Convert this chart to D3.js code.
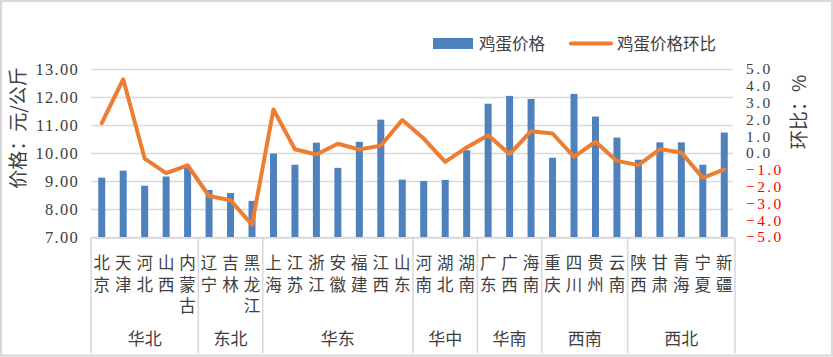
<!DOCTYPE html>
<html><head><meta charset="utf-8">
<script src="https://cdn.jsdelivr.net/npm/d3@7"></script>
<style>
html,body{margin:0;padding:0;background:#fff;}
svg{display:block;}
</style></head>
<body><svg id="chart" width="833" height="357"></svg>
<script>
const provinces = ["北京","天津","河北","山西","内蒙古","辽宁","吉林","黑龙江","上海","江苏","浙江","安徽","福建","江西","山东","河南","湖北","湖南","广东","广西","海南","重庆","四川","贵州","云南","陕西","甘肃","青海","宁夏","新疆"];
const regions = ["华北","东北","华东","华中","华南","西南","西北"];
const regionSizes = [5,3,7,3,3,4,5];
const eggPrice = [9.12,9.37,8.83,9.16,9.49,8.68,8.57,8.29,9.98,9.58,10.37,9.47,10.40,11.19,9.05,9.00,9.04,10.10,11.76,12.04,11.93,9.83,12.11,11.30,10.55,9.76,10.38,10.38,9.58,10.73];
const eggChange = [1.78,4.39,-0.33,-1.20,-0.73,-2.56,-2.81,-4.28,2.59,0.22,-0.09,0.55,0.21,0.44,1.96,0.86,-0.53,0.33,1.06,-0.07,1.30,1.16,-0.23,0.67,-0.47,-0.72,0.23,0.03,-1.48,-0.98];
const leftTicks = [7,8,9,10,11,12,13];
const rightTicks = [-5,-4,-3,-2,-1,0,1,2,3,4,5];
const legendLabels = ["鸡蛋价格","鸡蛋价格环比"];
const leftTitle = "价格：元/公斤";
const rightTitle = "环比：%";

(function(){
const svg = d3.select("#chart");
const W = 833, H = 357;
const pL = 91, pR = 735, pT = 69, pB = 237;
const cjk = "'Noto Sans CJK SC', sans-serif";
const numFont = "'Liberation Serif', 'DejaVu Serif', serif";
const txt = "#404040";
const grid = "#d9d9d9";

svg.append("rect").attr("x",1).attr("y",1).attr("width",W-2).attr("height",H-2.5)
  .attr("fill","#fff").attr("stroke",grid).attr("stroke-width",2.2);

const x = d3.scaleBand().domain(provinces).range([pL,pR]).padding(0);
const yL = d3.scaleLinear().domain([7,13]).range([pB,pT]);
const yR = d3.scaleLinear().domain([-5,5]).range([pB,pT]);

// gridlines
const gAxisGrid = svg.append("g").attr("transform",`translate(${pL},0)`)
  .call(d3.axisLeft(yL).tickValues(leftTicks).tickSize(-(pR-2-pL)).tickFormat(""));
gAxisGrid.select(".domain").remove();
gAxisGrid.selectAll("line").attr("stroke",grid).attr("stroke-width",1.6);

// left tick labels
const gL = svg.append("g").attr("transform",`translate(${pL},0)`)
  .call(d3.axisLeft(yL).tickValues(leftTicks).tickSize(0).tickPadding(12).tickFormat(d3.format(".2f")));
gL.select(".domain").remove();
gL.selectAll("text").attr("font-family",numFont).attr("font-size",16.5).attr("fill",txt)
  .attr("letter-spacing","1.3px");

// right tick labels
const gR = svg.append("g").attr("transform",`translate(${pR},0)`)
  .call(d3.axisRight(yR).tickValues(rightTicks).tickSize(0).tickPadding(11).tickFormat(d3.format(".1f")));
gR.select(".domain").remove();
gR.selectAll("text").attr("font-family",numFont).attr("font-size",15.5)
  .attr("letter-spacing","2.4px")
  .attr("fill", d => d < 0 ? "#ff0000" : txt);

// bars
svg.append("g").selectAll("rect").data(provinces).join("rect")
  .attr("x", (d) => x(d) + x.bandwidth()/2 - 3.5)
  .attr("width", 7)
  .attr("y", (d,i) => yL(eggPrice[i]))
  .attr("height", (d,i) => yL(7) - yL(eggPrice[i]))
  .attr("fill","#4f81bd");

// bottom axis line and group separators
svg.append("line").attr("x1",pL).attr("x2",pR).attr("y1",pB+1).attr("y2",pB+1)
  .attr("stroke",grid).attr("stroke-width",1.6);
let acc = 0;
const bounds = [0];
regionSizes.forEach(s => { acc += s; bounds.push(acc); });
svg.append("g").selectAll("line").data(bounds).join("line")
  .attr("x1", d => d < provinces.length ? x(provinces[d]) : pR)
  .attr("x2", d => d < provinces.length ? x(provinces[d]) : pR)
  .attr("y1", pB+1).attr("y2", 353)
  .attr("stroke",grid).attr("stroke-width",1.6);

// line
const line = d3.line().x((d,i) => x(provinces[i]) + x.bandwidth()/2).y(d => yR(d));
svg.append("path").datum(eggChange).attr("d",line).attr("fill","none")
  .attr("stroke","#ed7d31").attr("stroke-width",4).attr("stroke-linejoin","round").attr("stroke-linecap","round");

// category labels (vertical text)
svg.append("g").selectAll("text").data(provinces).join("text")
  .attr("font-family",cjk).attr("font-size",16.5).attr("fill",txt)
  .style("writing-mode","vertical-rl")
  .attr("letter-spacing","5px")
  .attr("x", d => x(d) + x.bandwidth()/2).attr("y", 254.5)
  .text(d => d);

// region labels
svg.append("g").selectAll("text").data(regions).join("text")
  .attr("x",(d,i) => {
    const a = x(provinces[bounds[i]]);
    const b = bounds[i+1] < provinces.length ? x(provinces[bounds[i+1]]) : pR;
    return (a+b)/2;
  })
  .attr("y",337).attr("dominant-baseline","central").attr("text-anchor","middle")
  .attr("font-family",cjk).attr("font-size",17).attr("fill",txt)
  .text(d => d);

// axis titles
svg.append("text").attr("transform","translate(25,128) rotate(-90)").attr("text-anchor","middle")
  .attr("font-family",cjk).attr("font-size",19).attr("fill",txt).text(leftTitle);
svg.append("text").attr("transform","translate(806,112) rotate(-90)").attr("text-anchor","middle")
  .attr("font-family",cjk).attr("font-size",19).attr("fill",txt).text(rightTitle);

// legend
svg.append("rect").attr("x",433).attr("y",38).attr("width",40).attr("height",11).attr("fill","#4f81bd");
svg.append("text").attr("x",479).attr("y",50).attr("font-family",cjk).attr("font-size",16.5).attr("fill",txt).text(legendLabels[0]);
svg.append("line").attr("x1",571).attr("x2",611).attr("y1",43.5).attr("y2",43.5)
  .attr("stroke","#ed7d31").attr("stroke-width",4).attr("stroke-linecap","round");
svg.append("text").attr("x",617).attr("y",50).attr("font-family",cjk).attr("font-size",16.5).attr("fill",txt).text(legendLabels[1]);
})();
</script></body></html>
